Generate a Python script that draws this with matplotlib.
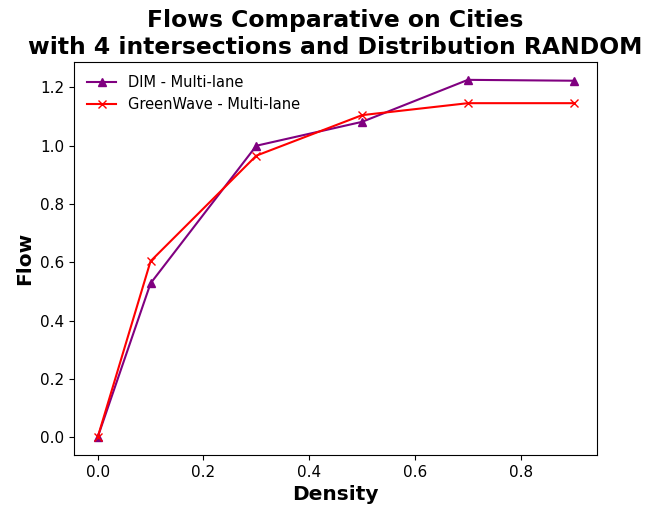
import matplotlib
matplotlib.use("Agg")
import matplotlib.pyplot as plt

# Density values (x axis)
density = [0.0, 0.1, 0.3, 0.5, 0.7, 0.9]

# Flow per method
flow_dim = [0.0, 0.528, 1.0, 1.082, 1.226, 1.223]
flow_greenwave = [0.0, 0.604, 0.966, 1.105, 1.146, 1.146]

fig, ax = plt.subplots(figsize=(6.48, 5.08), dpi=100)
fig.subplots_adjust(left=0.114, right=0.922, top=0.878, bottom=0.104)

ax.plot(density, flow_dim, color="purple", marker="^", label="DIM - Multi-lane")
ax.plot(density, flow_greenwave, color="red", marker="x", label="GreenWave - Multi-lane")

ax.set_title("Flows Comparative on Cities\nwith 4 intersections and Distribution RANDOM",
             fontsize=16.9, fontweight="bold")
ax.set_xlabel("Density", fontsize=14.5, fontweight="bold")
ax.set_ylabel("Flow", fontsize=14.5, fontweight="bold")
ax.tick_params(labelsize=11)
ax.legend(loc="upper left", frameon=False, fontsize=10.5)

plt.savefig("out.png", dpi=100)
